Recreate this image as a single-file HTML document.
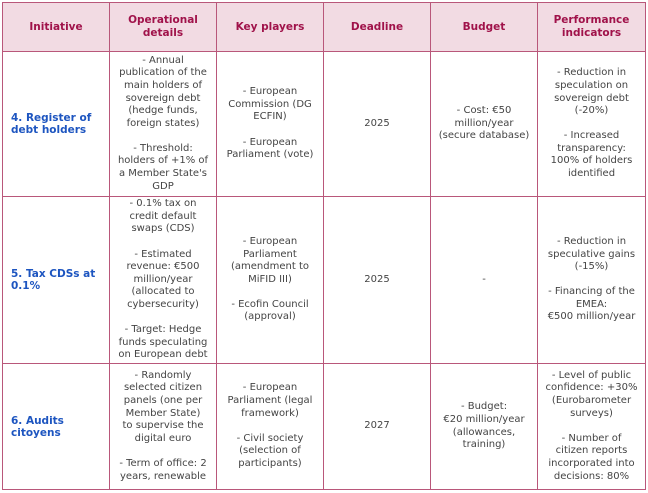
<!DOCTYPE html>
<html><head><meta charset="utf-8"><style>
html,body{margin:0;padding:0;background:#fff;}
table{position:absolute;left:2px;top:2px;border-collapse:collapse;table-layout:fixed;font-family:"DejaVu Sans","Liberation Sans",sans-serif;font-size:10px;line-height:12.6px;color:#444;}
td,th{border:1.5px solid #b9577a;text-align:center;vertical-align:middle;padding:0 2px;white-space:nowrap;overflow:hidden;}
th{background:#f2dbe3;color:#a0124a;font-weight:bold;font-size:10.5px;line-height:13px;}
td.i{text-align:left;color:#1d55c0;font-weight:bold;font-size:10.5px;line-height:12px;padding-left:8px;}
p{margin:0;}
p+p{margin-top:12.6px;}
</style></head><body>
<table>
<colgroup><col style="width:107px"><col style="width:107px"><col style="width:107px"><col style="width:107px"><col style="width:107px"><col style="width:108px"></colgroup>
<tr style="height:49px"><th>Initiative</th><th>Operational<br>details</th><th>Key players</th><th>Deadline</th><th>Budget</th><th>Performance<br>indicators</th></tr>
<tr style="height:145px"><td class="i">4. Register of<br>debt holders</td>
<td><p>- Annual<br>publication of the<br>main holders of<br>sovereign debt<br>(hedge funds,<br>foreign states)</p><p>- Threshold:<br>holders of +1% of<br>a Member State's<br>GDP</p></td>
<td><p>- European<br>Commission (DG<br>ECFIN)</p><p>- European<br>Parliament (vote)</p></td>
<td>2025</td>
<td>- Cost: €50<br>million/year<br>(secure database)</td>
<td><p>- Reduction in<br>speculation on<br>sovereign debt<br>(-20%)</p><p>- Increased<br>transparency:<br>100% of holders<br>identified</p></td></tr>
<tr style="height:167px"><td class="i">5. Tax CDSs at<br>0.1%</td>
<td><p>- 0.1% tax on<br>credit default<br>swaps (CDS)</p><p>- Estimated<br>revenue: €500<br>million/year<br>(allocated to<br>cybersecurity)</p><p>- Target: Hedge<br>funds speculating<br>on European debt</p></td>
<td><p>- European<br>Parliament<br>(amendment to<br>MiFID III)</p><p>- Ecofin Council<br>(approval)</p></td>
<td>2025</td>
<td>-</td>
<td><p>- Reduction in<br>speculative gains<br>(-15%)</p><p>- Financing of the<br>EMEA:<br>€500 million/year</p></td></tr>
<tr style="height:126px"><td class="i">6. Audits<br>citoyens</td>
<td><p>- Randomly<br>selected citizen<br>panels (one per<br>Member State)<br>to supervise the<br>digital euro</p><p>- Term of office: 2<br>years, renewable</p></td>
<td><p>- European<br>Parliament (legal<br>framework)</p><p>- Civil society<br>(selection of<br>participants)</p></td>
<td>2027</td>
<td>- Budget:<br>€20 million/year<br>(allowances,<br>training)</td>
<td><p>- Level of public<br>confidence: +30%<br>(Eurobarometer<br>surveys)</p><p>- Number of<br>citizen reports<br>incorporated into<br>decisions: 80%</p></td></tr>
</table>
</body></html>
